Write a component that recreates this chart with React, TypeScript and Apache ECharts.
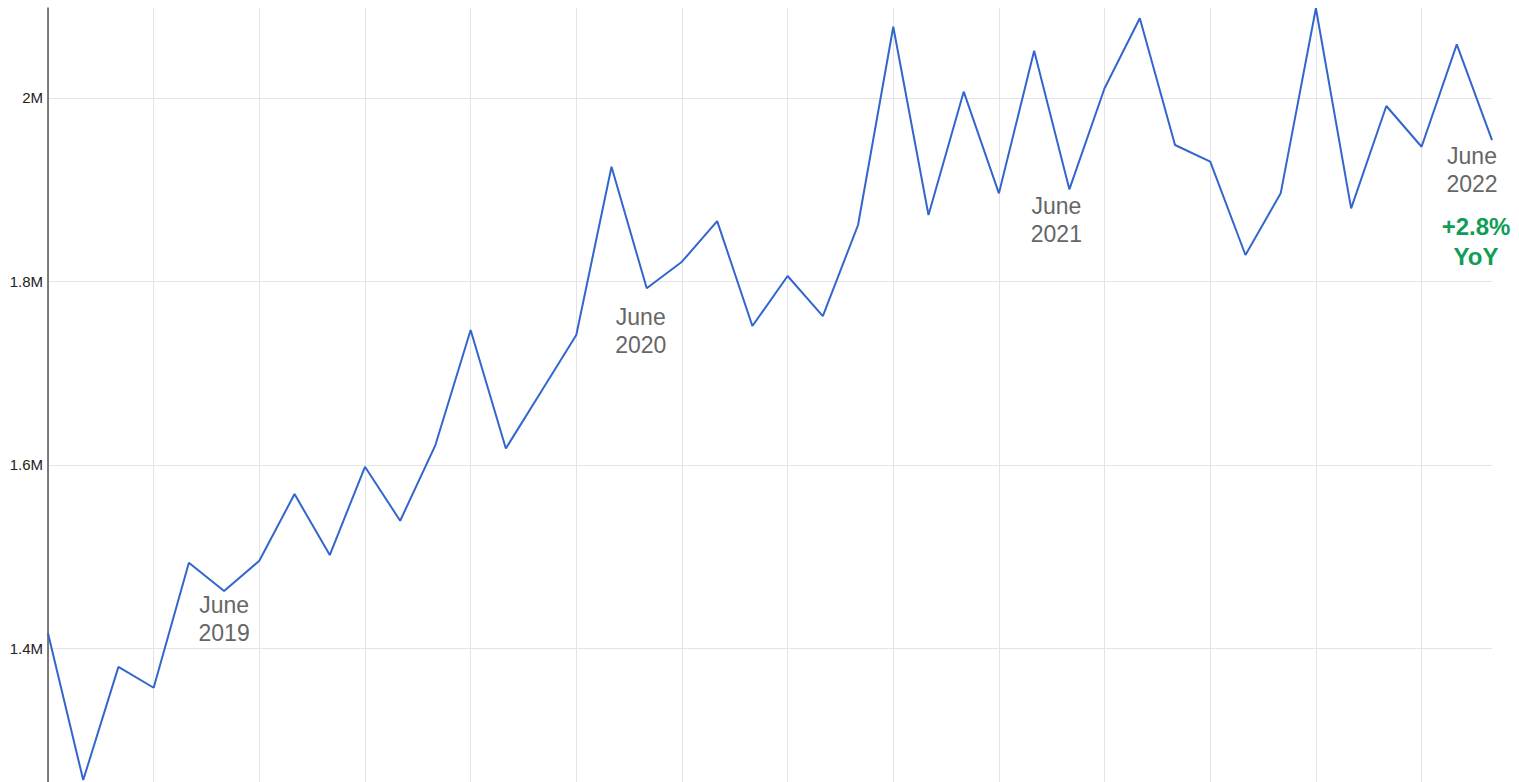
import React, { useEffect, useRef } from "react";
import * as echarts from "echarts";

// Monthly values, January 2019 through June 2022
const months: string[] = [
  "Jan 2019", "Feb 2019", "Mar 2019", "Apr 2019", "May 2019", "Jun 2019",
  "Jul 2019", "Aug 2019", "Sep 2019", "Oct 2019", "Nov 2019", "Dec 2019",
  "Jan 2020", "Feb 2020", "Mar 2020", "Apr 2020", "May 2020", "Jun 2020",
  "Jul 2020", "Aug 2020", "Sep 2020", "Oct 2020", "Nov 2020", "Dec 2020",
  "Jan 2021", "Feb 2021", "Mar 2021", "Apr 2021", "May 2021", "Jun 2021",
  "Jul 2021", "Aug 2021", "Sep 2021", "Oct 2021", "Nov 2021", "Dec 2021",
  "Jan 2022", "Feb 2022", "Mar 2022", "Apr 2022", "May 2022", "Jun 2022",
];

const values: number[] = [
  1416500, 1256600, 1380000, 1357200, 1493400, 1462600, 1495600, 1568300, 1501800, 1598000,
  1539200, 1621700, 1747000, 1618000, 1679800, 1741600, 1925000, 1792500, 1821500, 1865800,
  1751400, 1805900, 1762300, 1861500, 2077600, 1872400, 2006800, 1896000, 2051400, 1900400,
  2010500, 2086800, 1948700, 1930500, 1828800, 1896000, 2097700, 1879700, 1991200, 1946800,
  2058400, 1954100,
];

const annotationMonths: string[] = ["Jun 2019", "Jun 2020", "Jun 2021", "Jun 2022"];
const annotationTexts: string[] = ["June\n2019", "June\n2020", "June\n2021", "June\n2022"];
const yoyMonth = "Jun 2022";
const yoyText = "+2.8%\nYoY";

const yMin = 1200000;
const yMax = 2098000;
const yInterval = 200000;

// label placement (pixels) relative to each annotated point
const annotationOffsets: [number, number][] = [
  [0, 28],
  [-6, 43],
  [-13, 31],
  [-20, 30],
];
const yoyOffset: [number, number] = [-16, 101];

const FONT = 'Arial, "Liberation Sans", Helvetica, sans-serif';

export default function App() {
  const ref = useRef<HTMLDivElement | null>(null);

  useEffect(() => {
    if (!ref.current) return;
    const chart = echarts.init(ref.current, undefined, { renderer: "svg" });

    const annData: any[] = annotationMonths.map((m, i) => {
      const idx = months.indexOf(m);
      return {
        value: [idx, values[idx]],
        label: {
          show: true,
          formatter: annotationTexts[i],
          position: "inside",
          offset: annotationOffsets[i],
          color: "#666666",
          opacity: 1,
          fontSize: 23,
          lineHeight: 28,
          fontFamily: FONT,
          align: "center",
          verticalAlign: "middle",
        },
      };
    });
    const yIdx = months.indexOf(yoyMonth);
    annData.push({
      value: [yIdx, values[yIdx]],
      label: {
        show: true,
        formatter: yoyText,
        position: "inside",
        offset: yoyOffset,
        color: "#0f9d58",
        opacity: 1,
        fontSize: 24,
        fontWeight: "bold",
        lineHeight: 30,
        fontFamily: FONT,
        align: "center",
        verticalAlign: "middle",
      },
    });

    chart.setOption({
      animation: false,
      backgroundColor: "#ffffff",
      grid: { left: 48, right: 27, top: 8, bottom: 0, containLabel: false },
      xAxis: {
        type: "category",
        data: months,
        boundaryGap: false,
        axisLine: { show: false },
        axisTick: { show: false },
        axisLabel: { show: false },
        splitLine: {
          show: true,
          interval: (index: number) => index % 3 === 0,
          lineStyle: { color: "#e4e4e4", width: 1 },
        },
      },
      yAxis: {
        type: "value",
        min: yMin,
        max: yMax,
        interval: yInterval,
        axisLine: { show: true, lineStyle: { color: "#555555", width: 1.5 } },
        axisTick: { show: false },
        axisLabel: {
          show: true,
          margin: 5,
          color: "#222222",
          fontSize: 15,
          fontFamily: FONT,
          showMinLabel: false,
          showMaxLabel: false,
          formatter: (v: number) => parseFloat((v / 1e6).toFixed(1)) + "M",
        },
        splitLine: {
          show: true,
          showMinLine: false,
          showMaxLine: false,
          lineStyle: { color: "#e4e4e4", width: 1 },
        },
      },
      series: [
        {
          type: "line",
          data: values,
          showSymbol: false,
          symbol: "none",
          lineStyle: { color: "#3366cc", width: 2 },
          silent: true,
          z: 3,
        },
        {
          type: "scatter",
          data: annData,
          symbolSize: 0,
          itemStyle: { color: "#ffffff", opacity: 1 },
          silent: true,
          z: 4,
        },
      ],
    });

    return () => {
      chart.dispose();
    };
  }, []);

  return (
    <div
      style={{
        position: "absolute",
        left: 0,
        top: 0,
        width: 1519,
        height: 782,
        overflow: "hidden",
        background: "#ffffff",
      }}
    >
      <div ref={ref} style={{ width: 1519, height: 832 }} />
    </div>
  );
}
